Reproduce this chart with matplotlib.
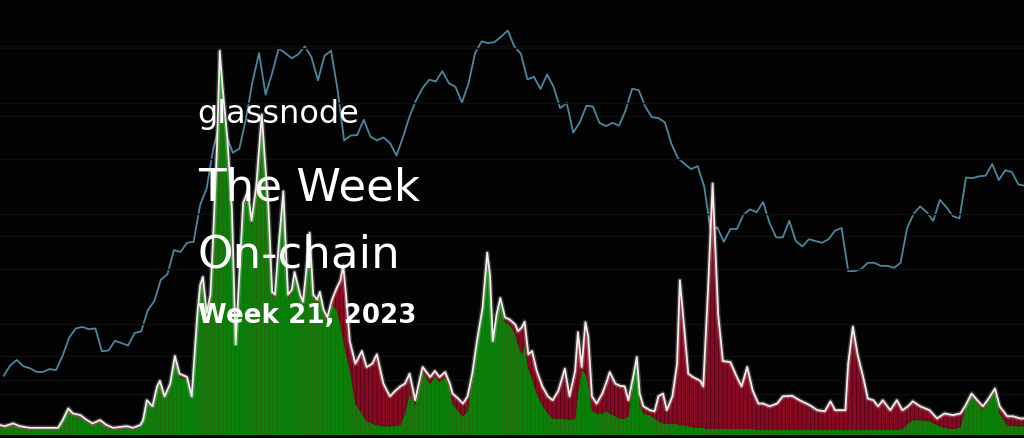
import numpy as np
import pandas as pd
import matplotlib
matplotlib.use("Agg")
import matplotlib.pyplot as plt

# --- data ----------------------------------------------------------------
start = pd.Timestamp("2020-05-20")
end = pd.Timestamp("2023-05-20")

# BTC price, weekly closes (USD)
price_dates = pd.date_range("2020-05-24", "2023-05-21", freq="7D")
price = [
    8900,
    9450, 9750, 9400, 9300, 9100, 9100, 9250, 9200, 10000, 11100, 11700, 11800,
    11650, 11700, 10250, 10300, 10900, 10750, 10600, 11400, 11500, 13000, 13700,
    15500, 16000, 18400, 18200, 19200, 19300, 23900, 26300,
    33000, 38300, 35800, 32300, 33100, 39300, 48700, 57500, 45200, 51200, 59000,
    57500, 55800, 57100, 59800, 56200, 49100, 56600, 58300, 46500, 34700, 35700,
    35800, 39100, 35500, 34700, 35300, 34200, 31800, 35400, 39900, 43800, 47000,
    49300, 48800, 51800, 48300, 47300, 43200, 48200, 57500, 61500, 60900, 61300,
    63300, 65500, 59700, 57300, 49400, 50100, 46700, 50800,
    47300, 41800, 43100, 36300, 38500, 42400, 42200, 38400, 37700, 38400, 37800,
    41300, 46800, 46400, 42200, 39700, 39500, 38500, 34000, 31300, 30300, 29400,
    29900, 26600, 20500, 21000, 19300, 20800, 20800, 22600, 23300, 22900, 24300,
    21500, 19800, 19800, 21800, 19400, 18800, 19600, 19400, 19200, 19600, 20600,
    20900, 16300, 16300, 16500, 17100, 17100, 16800, 16800,
    16600, 17100, 20900, 22700, 23700, 22900, 21800, 24600, 23600, 22400, 22100,
    28000, 27900, 28200, 28300, 30300, 27600, 29200, 28900, 26900, 26700,
]

# volume split by profit (green) / loss (red), USD billions; day offsets from start
flow_day = [
    0, 5, 14, 21, 32, 48, 62, 67, 73, 78, 86, 93, 99, 107, 114, 121, 136, 142,
    150, 153, 157, 163, 168, 171, 176, 182, 187, 192, 200, 205, 211, 214, 217,
    221, 225, 228, 232, 235, 238, 243, 248, 252, 257, 260, 265, 269, 274, 278,
    280, 283, 287, 291, 294, 298, 303, 306, 308, 312, 315, 321, 324, 327, 331,
    335, 339, 342, 346, 350, 355, 360, 364, 367, 370, 374, 380, 387, 392, 398,
    403, 410, 417, 422, 428, 433, 438, 444, 449, 452, 460, 465, 470, 476, 481,
    484, 490, 495, 500, 505, 510, 516, 521, 524, 527, 531, 535, 540, 545, 551,
    554, 558, 561, 565, 569, 574, 580, 586, 591, 597, 604, 609, 615, 618, 622,
    626, 629, 633, 638, 644, 649, 652, 658, 663, 668, 672, 677, 681, 684, 688,
    695, 700, 704, 709, 713, 719, 724, 727, 732, 736, 741, 749, 752, 757, 762,
    768, 773, 781, 788, 793, 799, 805, 811, 816, 823, 831, 837, 847, 855, 866,
    874, 882, 888, 893, 904, 907, 912, 917, 923, 928, 934, 939, 944, 952, 959,
    965, 971, 976, 984, 994, 1002, 1010, 1019, 1027, 1032, 1039, 1045, 1051,
    1056, 1064, 1069, 1077, 1083, 1091, 1095,
]
flow_total = [
    0.18, 0.16, 0.21, 0.16, 0.13, 0.13, 0.13, 0.27, 0.48, 0.39, 0.36, 0.27, 0.21,
    0.27, 0.18, 0.13, 0.16, 0.13, 0.18, 0.27, 0.63, 0.52, 0.88, 0.98, 0.70, 0.93,
    1.43, 1.11, 1.05, 0.70, 2.18, 2.71, 2.86, 2.21, 2.54, 3.61, 5.21, 6.95, 6.29,
    5.39, 4.09, 1.64, 3.25, 4.20, 4.41, 3.88, 4.50, 5.39, 5.80, 5.04, 4.14, 2.59,
    2.54, 3.43, 4.41, 3.25, 2.54, 2.63, 2.95, 2.54, 2.41, 2.89, 3.66, 2.54, 2.45,
    2.59, 2.27, 2.13, 2.45, 2.66, 2.80, 3.07, 2.54, 1.70, 1.29, 1.52, 1.23, 1.29,
    1.46, 0.93, 0.70, 0.79, 0.88, 0.93, 1.11, 0.63, 1.02, 1.23, 1.05, 1.16, 1.05,
    1.14, 0.93, 0.75, 0.66, 0.57, 0.70, 1.11, 1.70, 2.30, 3.30, 2.89, 1.70, 2.18,
    2.48, 2.13, 2.09, 2.00, 1.88, 1.95, 2.05, 1.46, 1.52, 1.16, 0.88, 0.70, 0.63,
    0.80, 1.20, 0.70, 1.16, 1.86, 1.23, 2.04, 1.79, 0.70, 0.57, 0.75, 0.98, 1.14,
    0.93, 0.89, 0.88, 0.63, 1.05, 1.41, 0.75, 0.52, 0.45, 0.43, 0.70, 0.75, 0.45,
    0.70, 1.29, 2.80, 1.88, 1.11, 1.05, 0.98, 0.88, 2.59, 4.55, 2.18, 1.34, 1.32,
    1.05, 0.88, 1.23, 0.80, 0.57, 0.57, 0.52, 0.57, 0.70, 0.71, 0.63, 0.54, 0.45,
    0.43, 0.61, 0.45, 0.45, 1.29, 1.96, 1.46, 1.05, 0.66, 0.63, 0.52, 0.63, 0.45,
    0.63, 0.45, 0.52, 0.61, 0.52, 0.45, 0.30, 0.39, 0.36, 0.39, 0.52, 0.75, 0.63,
    0.52, 0.63, 0.84, 0.52, 0.34, 0.34, 0.30, 0.30,
]
flow_profit = [
    0.14, 0.13, 0.18, 0.13, 0.09, 0.09, 0.09, 0.25, 0.45, 0.36, 0.32, 0.23, 0.18,
    0.23, 0.14, 0.09, 0.13, 0.09, 0.14, 0.25, 0.59, 0.48, 0.84, 0.95, 0.66, 0.89,
    1.39, 1.05, 1.00, 0.64, 2.14, 2.68, 2.82, 2.18, 2.50, 3.57, 5.18, 6.86, 6.20,
    5.21, 3.96, 1.50, 3.16, 4.14, 4.36, 3.79, 4.41, 5.30, 5.66, 4.95, 4.05, 2.54,
    2.48, 3.38, 4.32, 3.16, 2.48, 2.57, 2.89, 2.48, 2.36, 2.84, 3.61, 2.48, 2.39,
    2.54, 2.21, 2.07, 2.36, 2.27, 2.00, 1.73, 1.46, 1.20, 0.57, 0.39, 0.25, 0.21,
    0.18, 0.16, 0.16, 0.16, 0.18, 0.39, 0.75, 0.54, 0.89, 1.14, 0.93, 1.07, 0.96,
    1.05, 0.84, 0.57, 0.43, 0.34, 0.43, 1.02, 1.64, 2.25, 3.25, 2.84, 1.64, 2.13,
    2.39, 2.04, 2.00, 1.82, 1.64, 1.46, 1.64, 1.20, 1.02, 0.75, 0.54, 0.39, 0.30,
    0.30, 0.30, 0.27, 0.30, 0.75, 1.20, 1.11, 0.93, 0.45, 0.39, 0.39, 0.43, 0.39,
    0.34, 0.30, 0.30, 0.34, 1.02, 1.38, 0.57, 0.39, 0.36, 0.30, 0.25, 0.21, 0.21,
    0.21, 0.20, 0.18, 0.18, 0.16, 0.14, 0.13, 0.13, 0.11, 0.11, 0.11, 0.11, 0.11,
    0.11, 0.11, 0.11, 0.11, 0.09, 0.09, 0.09, 0.09, 0.09, 0.09, 0.09, 0.09, 0.09,
    0.09, 0.09, 0.09, 0.09, 0.09, 0.09, 0.09, 0.09, 0.09, 0.09, 0.09, 0.09, 0.09,
    0.09, 0.11, 0.21, 0.27, 0.27, 0.25, 0.18, 0.13, 0.11, 0.14, 0.48, 0.71, 0.57,
    0.46, 0.57, 0.79, 0.39, 0.18, 0.16, 0.16, 0.16,
]

price_ticks = [8000, 10000, 20000, 40000, 60000]
flow_ticks = [1, 2, 3, 4, 5, 6, 7]

# --- styling --------------------------------------------------------------
bg = "#030303"
grid_col = "#0f0f0f"
price_col = "#4d86a0"
profit_col = "#0a800a"
loss_col = "#880a22"

plt.rcParams["hatch.linewidth"] = 0.45

fig = plt.figure(figsize=(10.24, 4.39), dpi=100, facecolor=bg)
ax = fig.add_axes([0, 0, 1, 1])
ax2 = ax.twinx()

flow_x = start + pd.to_timedelta(flow_day, unit="D")
total = np.array(flow_total)
profit = np.array(flow_profit)

# price line sits behind the volume areas
ax2.set_zorder(1)
ax.set_zorder(2)
ax.patch.set_visible(False)
ax2.set_facecolor(bg)

ax2.plot(price_dates, price, color=price_col, lw=1.3)
ax2.set_yscale("log")
ax2.set_ylim(6210, 78600)
ax2.set_yticks(price_ticks)
ax2.yaxis.grid(True, color=grid_col, lw=1)
ax2.minorticks_off()

ax.fill_between(flow_x, 0, profit, facecolor=profit_col, edgecolor="#3a560c",
                hatch="||||", linewidth=0)
ax.fill_between(flow_x, profit, total, facecolor=loss_col, edgecolor="#3a0010",
                hatch="||||", linewidth=0)
ax.plot(flow_x, total, color="#ffffff", lw=3.4, alpha=0.22)
ax.plot(flow_x, total, color="#f2ecec", lw=1.3)
ax.set_ylim(-0.054, 7.89)
ax.set_yticks(flow_ticks)
ax.yaxis.grid(True, color=grid_col, lw=1)
ax.set_axisbelow(True)

for a in (ax, ax2):
    a.set_xlim(start, end)
    a.tick_params(left=False, right=False, bottom=False, labelleft=False,
                  labelright=False, labelbottom=False)
    for s in a.spines.values():
        s.set_visible(False)

# --- title block ------------------------------------------------------------
fig.text(0.193, 1 - 123 / 439, "glassnode", color="white", fontsize=23,
         family="DejaVu Sans", va="baseline")
fig.text(0.193, 1 - 201 / 439, "The Week", color="white", fontsize=32.5,
         family="DejaVu Sans", va="baseline")
fig.text(0.193, 1 - 268 / 439, "On-chain", color="white", fontsize=32.5,
         family="DejaVu Sans", va="baseline")
fig.text(0.193, 1 - 323 / 439, "Week 21, 2023", color="white", fontsize=18.8,
         family="DejaVu Sans", weight="bold", va="baseline")

fig.savefig("out.png", dpi=100, facecolor=bg)
